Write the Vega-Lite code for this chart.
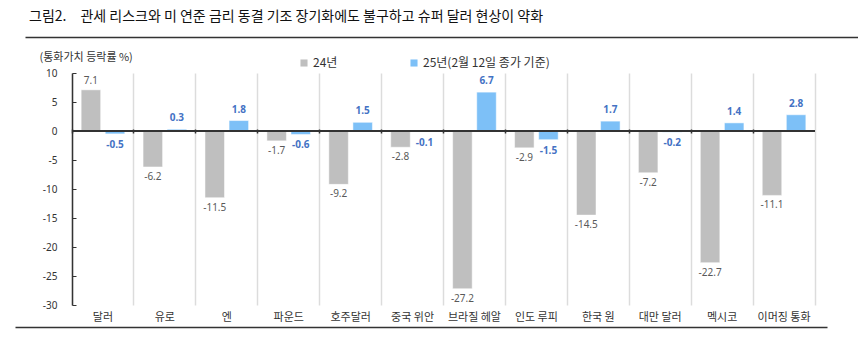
{
  "$schema": "https://vega.github.io/schema/vega-lite/v6.json",
  "autosize": "none",
  "padding": {"left": 72, "top": 73, "right": 43, "bottom": 48},
  "width": 743,
  "height": 232,
  "background": "white",
  "title": {
    "text": "그림2.\u2003관세 리스크와 미 연준 금리 동결 기조 장기화에도 불구하고 슈퍼 달러 현상이 약화",
    "anchor": "start",
    "frame": "group",
    "dx": -43,
    "offset": 13,
    "font": "Noto Sans CJK KR",
    "fontSize": 14,
    "fontWeight": "normal",
    "color": "#111"
  },
  "config": {
    "view": {"stroke": null},
    "font": "Noto Sans CJK KR",
    "axis": {"labelFont": "Noto Sans CJK KR", "titleFont": "Noto Sans CJK KR"}
  },
  "data": {
    "values": [
      {"currency": "달러", "series": "24년", "value": 7.1},
      {"currency": "유로", "series": "24년", "value": -6.2},
      {"currency": "엔", "series": "24년", "value": -11.5},
      {"currency": "파운드", "series": "24년", "value": -1.7},
      {"currency": "호주달러", "series": "24년", "value": -9.2},
      {"currency": "중국 위안", "series": "24년", "value": -2.8},
      {"currency": "브라질 헤알", "series": "24년", "value": -27.2},
      {"currency": "인도 루피", "series": "24년", "value": -2.9},
      {"currency": "한국 원", "series": "24년", "value": -14.5},
      {"currency": "대만 달러", "series": "24년", "value": -7.2},
      {"currency": "멕시코", "series": "24년", "value": -22.7},
      {"currency": "이머징 통화", "series": "24년", "value": -11.1},
      {"currency": "달러", "series": "25년(2월 12일 종가 기준)", "value": -0.5},
      {"currency": "유로", "series": "25년(2월 12일 종가 기준)", "value": 0.3},
      {"currency": "엔", "series": "25년(2월 12일 종가 기준)", "value": 1.8},
      {"currency": "파운드", "series": "25년(2월 12일 종가 기준)", "value": -0.6},
      {"currency": "호주달러", "series": "25년(2월 12일 종가 기준)", "value": 1.5},
      {"currency": "중국 위안", "series": "25년(2월 12일 종가 기준)", "value": -0.1},
      {"currency": "브라질 헤알", "series": "25년(2월 12일 종가 기준)", "value": 6.7},
      {"currency": "인도 루피", "series": "25년(2월 12일 종가 기준)", "value": -1.5},
      {"currency": "한국 원", "series": "25년(2월 12일 종가 기준)", "value": 1.7},
      {"currency": "대만 달러", "series": "25년(2월 12일 종가 기준)", "value": -0.2},
      {"currency": "멕시코", "series": "25년(2월 12일 종가 기준)", "value": 1.4},
      {"currency": "이머징 통화", "series": "25년(2월 12일 종가 기준)", "value": 2.8}
    ]
  },
  "transform": [
    {"calculate": "replace(format(datum.value, '.1f'), '\u2212', '-')", "as": "label"}
  ],
  "encoding": {
    "xOffset": {
      "field": "series",
      "type": "nominal",
      "scale": {"paddingInner": 0.19, "paddingOuter": 0.38}
    },
    "y": {
      "field": "value",
      "type": "quantitative",
      "scale": {"domain": [-30, 10], "nice": false, "zero": false}
    }
  },
  "resolve": {"scale": {"x": "independent"}, "axis": {"x": "independent", "y": "independent"}},
  "layer": [
    {
      "mark": {"type": "bar", "stroke": "white", "strokeWidth": 0.5},
      "encoding": {
        "x": {
          "field": "currency", "type": "nominal", "sort": null,
          "scale": {"paddingInner": 0, "paddingOuter": 0},
          "axis": {
            "orient": "bottom",
            "title": null, "labelAngle": 0, "domain": false, "ticks": false,
            "grid": true, "bandPosition": 0, "gridColor": "#DCDCDC", "gridWidth": 1.5,
            "labelFontSize": 11, "labelColor": "#333", "labelPadding": 6, "labelBaseline": "top"
          }
        },
        "y": {
          "field": "value", "type": "quantitative",
          "axis": {
            "orient": "left",
            "title": "(통화가치 등락률 %)", "titleAngle": 0, "titleAlign": "left",
            "titleBaseline": "middle", "titleX": -33, "titleY": -16,
            "titleFontSize": 11, "titleFontWeight": "normal", "titleColor": "#333",
            "values": [10, 5, 0, -5, -10, -15, -20, -25, -30],
            "labelExpr": "replace(datum.label, '\u2212', '-')",
            "grid": false, "domainColor": "#333", "domainWidth": 1.5,
            "tickColor": "#333", "tickSize": -4, "labelPadding": 19,
            "labelFontSize": 10, "labelColor": "#333", "labelFont": "Noto Sans"
          }
        },
        "color": {
          "field": "series", "type": "nominal",
          "scale": {"domain": ["24년", "25년(2월 12일 종가 기준)"], "range": ["#BFBFBF", "#7DC0F7"]},
          "legend": {
            "title": null, "orient": "none", "legendX": 226, "legendY": -16,
            "direction": "horizontal", "symbolType": "square", "symbolSize": 50,
            "symbolStrokeWidth": 0, "labelFontSize": 12, "labelColor": "#333",
            "columnPadding": 70, "labelOffset": 3
          }
        }
      }
    },
    {
      "mark": {"type": "rule", "color": "#333", "strokeWidth": 1.5},
      "encoding": {
        "xOffset": null,
        "y": {"datum": 0, "type": "quantitative",
          "axis": {"orient": "right", "labels": false, "ticks": false, "title": null, "grid": false, "domainColor": "#DCDCDC", "domainWidth": 1.5}
        }
      }
    },
    {
      "transform": [{"filter": "datum.series === '24년' && datum.value >= 0"}],
      "mark": {"type": "text", "baseline": "bottom", "dy": -4, "fontSize": 10, "color": "#595959", "font": "Noto Sans"},
      "encoding": {
        "x": {"field": "currency", "type": "nominal", "sort": null,
          "scale": {"domain": ["달러", "유로", "엔", "파운드", "호주달러", "중국 위안", "브라질 헤알", "인도 루피", "한국 원", "대만 달러", "멕시코", "이머징 통화"], "paddingInner": 0, "paddingOuter": 0},
          "axis": {"orient": "bottom", "title": null, "labels": false, "domain": false, "ticks": true, "tickSize": 4, "tickWidth": 1.5, "tickColor": "#333", "bandPosition": 0, "offset": -176}},
        "y": {"field": "value", "type": "quantitative", "axis": null},
        "text": {"field": "label", "type": "nominal"}
      }
    },
    {
      "transform": [{"filter": "datum.series === '24년' && datum.value < 0"}],
      "mark": {"type": "text", "baseline": "top", "dy": 5, "fontSize": 10, "color": "#595959", "font": "Noto Sans"},
      "encoding": {
        "x": {"field": "currency", "type": "nominal", "sort": null,
          "scale": {"domain": ["달러", "유로", "엔", "파운드", "호주달러", "중국 위안", "브라질 헤알", "인도 루피", "한국 원", "대만 달러", "멕시코", "이머징 통화"], "paddingInner": 0, "paddingOuter": 0},
          "axis": null},
        "y": {"field": "value", "type": "quantitative", "axis": null},
        "text": {"field": "label", "type": "nominal"}
      }
    },
    {
      "transform": [{"filter": "datum.series !== '24년' && datum.value >= 0"}],
      "mark": {"type": "text", "baseline": "bottom", "dy": -6, "fontSize": 10, "fontWeight": "bold", "color": "#4472C4", "font": "Noto Sans"},
      "encoding": {
        "x": {"field": "currency", "type": "nominal", "sort": null,
          "scale": {"domain": ["달러", "유로", "엔", "파운드", "호주달러", "중국 위안", "브라질 헤알", "인도 루피", "한국 원", "대만 달러", "멕시코", "이머징 통화"], "paddingInner": 0, "paddingOuter": 0},
          "axis": null},
        "y": {"field": "value", "type": "quantitative", "axis": null},
        "text": {"field": "label", "type": "nominal"}
      }
    },
    {
      "transform": [{"filter": "datum.series !== '24년' && datum.value < 0"}],
      "mark": {"type": "text", "baseline": "top", "dy": 6, "fontSize": 10, "fontWeight": "bold", "color": "#4472C4", "font": "Noto Sans"},
      "encoding": {
        "x": {"field": "currency", "type": "nominal", "sort": null,
          "scale": {"domain": ["달러", "유로", "엔", "파운드", "호주달러", "중국 위안", "브라질 헤알", "인도 루피", "한국 원", "대만 달러", "멕시코", "이머징 통화"], "paddingInner": 0, "paddingOuter": 0},
          "axis": null},
        "y": {"field": "value", "type": "quantitative", "axis": null},
        "text": {"field": "label", "type": "nominal"}
      }
    },
    {
      "mark": {"type": "text", "opacity": 0},
      "encoding": {
        "x": {"field": "currency", "type": "nominal", "sort": null,
          "scale": {"range": [-47, 786]},
          "axis": {"orient": "top", "title": null, "labels": false, "ticks": false, "domainColor": "#333", "domainWidth": 1.5, "offset": 36}},
        "y": {"field": "value", "type": "quantitative", "axis": null},
        "text": {"field": "label", "type": "nominal"}
      }
    },
    {
      "mark": {"type": "text", "opacity": 0},
      "encoding": {
        "x": {"field": "currency", "type": "nominal", "sort": null,
          "scale": {"range": [-57, 755]},
          "axis": {"orient": "bottom", "title": null, "labels": false, "ticks": false, "domainColor": "#333", "domainWidth": 1.5, "offset": 22}},
        "y": {"field": "value", "type": "quantitative", "axis": null},
        "text": {"field": "label", "type": "nominal"}
      }
    }
  ]
}
